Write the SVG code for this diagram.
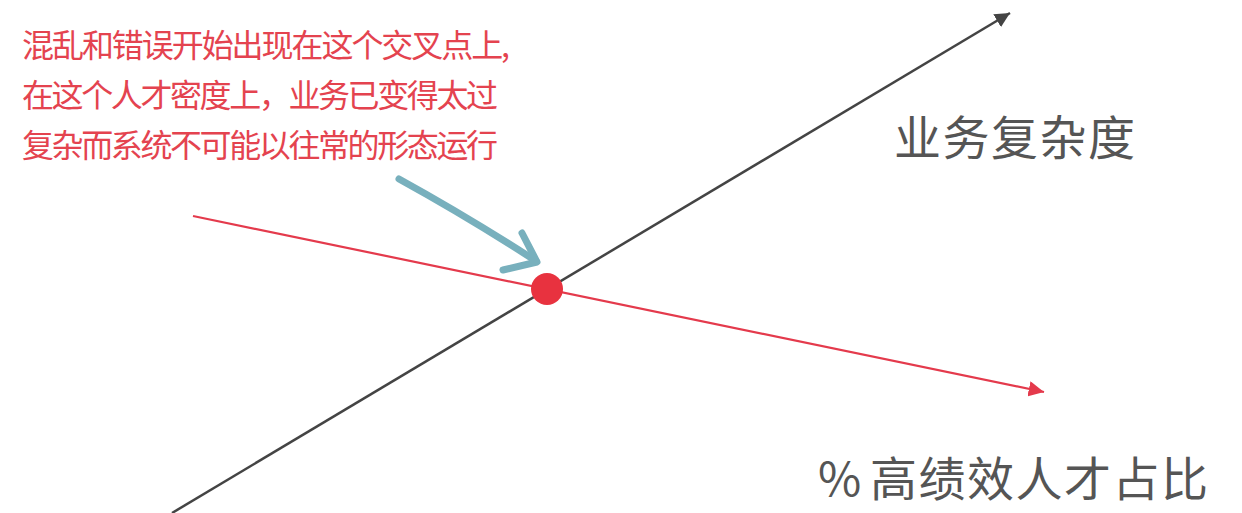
<svg xmlns="http://www.w3.org/2000/svg" width="1242" height="513" viewBox="0 0 1242 513">
<style>
.note{font-family:"Noto Sans CJK SC","Noto Sans",sans-serif;font-size:32px;fill:#e4434f}
.axis{font-family:"Noto Sans CJK SC","Noto Sans",sans-serif;font-size:47px;fill:#555555}
</style>
<defs>
<marker id="ah-black" viewBox="0 0 10 10" refX="10" refY="5" markerWidth="6" markerHeight="6" markerUnits="strokeWidth" orient="auto">
<path d="M0,0 L10,5 L0,10 z" fill="#444444"/>
</marker>
<marker id="ah-red" viewBox="0 0 10 10" refX="10" refY="5" markerWidth="7" markerHeight="7" markerUnits="strokeWidth" orient="auto">
<path d="M0,0 L10,5 L0,10 z" fill="#e43a4c"/>
</marker>
</defs>
<rect width="1242" height="513" fill="#ffffff"/>
<g id="connectors">
<line x1="172" y1="513" x2="1010" y2="13" stroke="#444444" stroke-width="2.5" marker-end="url(#ah-black)"/>
<line x1="193" y1="216" x2="1044" y2="392" stroke="#e43a4c" stroke-width="2.2" marker-end="url(#ah-red)"/>
<g fill="none" stroke="#6aa8b6" stroke-width="7" stroke-linecap="round" stroke-linejoin="round" opacity="0.9">
<path d="M399,179 Q468,217 536,261"/>
<path d="M522,233 L537,262 L503,270"/>
</g>
</g>
<g id="node-intersection">
<circle cx="547" cy="289" r="16" fill="#e8323f"/>
</g>
<g id="node-note">
<text class="note" x="22" y="57" textLength="488">混乱和错误开始出现在这个交叉点上,</text>
<text class="note" x="22" y="107" textLength="476">在这个人才密度上，业务已变得太过</text>
<text class="note" x="22" y="157" textLength="476">复杂而系统不可能以往常的形态运行</text>
</g>
<g id="node-complexity">
<text class="axis" x="894" y="155" font-size="48" letter-spacing="1.5">业务复杂度</text>
</g>
<g id="node-talent">
<text class="axis" y="496"><tspan x="818">%</tspan><tspan x="870" letter-spacing="1.5">高绩效人才占比</tspan></text>
</g>
</svg>
